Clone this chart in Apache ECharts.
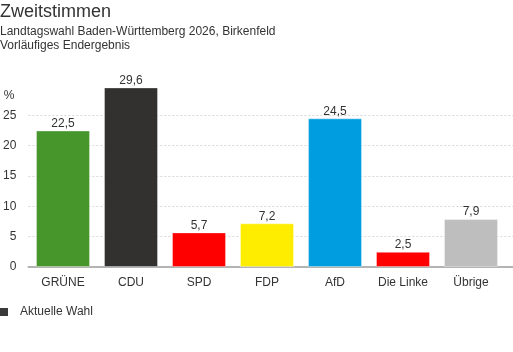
<!DOCTYPE html>
<html><head><meta charset="utf-8">
<script src="https://cdn.jsdelivr.net/npm/echarts@6/dist/echarts.min.js"></script>
<style>html,body{margin:0;padding:0;background:#fff}#c{width:513px;height:352px}</style>
</head><body><div id="c"></div>
<script>
const categories = ['GRÜNE', 'CDU', 'SPD', 'FDP', 'AfD', 'Die Linke', 'Übrige'];
const values = [22.5, 29.6, 5.7, 7.2, 24.5, 2.5, 7.9];
const partyColors = ['#46962b', '#323130', '#ff0000', '#ffed00', '#009ee0', '#ff0000', '#bebebe'];
const yTicks = [0, 5, 10, 15, 20, 25];

const font = '"Liberation Sans", Arial, sans-serif';
const chart = echarts.init(document.getElementById('c'));
chart.setOption({
  animation: false,
  textStyle: { fontFamily: font },
  title: [
    { text: 'Zweitstimmen', left: 0, top: 3, padding: 0,
      textStyle: { fontSize: 18, fontWeight: 'normal', color: '#333', fontFamily: font } },
    { text: 'Landtagswahl Baden-Württemberg 2026, Birkenfeld\nVorläufiges Endergebnis', left: 0, top: 25, padding: 0,
      textStyle: { fontSize: 12, fontWeight: 'normal', color: '#333', lineHeight: 14, fontFamily: font } }
  ],
  legend: {
    left: 0, top: 306, padding: 0,
    icon: 'rect', itemWidth: 8, itemHeight: 8, itemGap: 10,
    data: ['Aktuelle Wahl'],
    textStyle: { fontSize: 12, color: '#333', padding: [0, 0, 0, 7], fontFamily: font }
  },
  grid: [
    { left: 22, right: 0, top: 85, bottom: 85 },
    { left: 29, right: 8, top: 85, bottom: 85 }
  ],
  xAxis: [
    { type: 'category', gridIndex: 0, data: categories,
      axisLine: { show: true, lineStyle: { color: '#b4b4b4', width: 2 } },
      axisTick: { show: false }, axisLabel: { show: false }, splitLine: { show: false } },
    { type: 'category', gridIndex: 1, data: categories,
      axisLine: { show: false }, axisTick: { show: false },
      axisLabel: { color: '#333', fontSize: 12, margin: 10, fontFamily: font } }
  ],
  yAxis: [
    { type: 'value', gridIndex: 0, min: 0, max: 30, interval: 5,
      name: '%', nameLocation: 'end', nameGap: -11,
      nameTextStyle: { color: '#333', fontSize: 12, align: 'right', padding: [0, 14, 0, 0], verticalAlign: 'middle', fontFamily: font },
      axisLine: { show: false }, axisTick: { show: false },
      axisLabel: { color: '#333', fontSize: 12, margin: 12, showMaxLabel: false, fontFamily: font,
        formatter: v => yTicks.includes(v) ? String(v) : '' },
      splitLine: { show: true, showMinLine: false, showMaxLine: false, lineStyle: { color: '#d8d8d8', type: [2, 2], width: 1 } } },
    { type: 'value', gridIndex: 1, min: 0, max: 30, interval: 5,
      axisLine: { show: false }, axisTick: { show: false }, axisLabel: { show: false }, splitLine: { show: false } }
  ],
  series: [{
    name: 'Aktuelle Wahl', type: 'bar', xAxisIndex: 1, yAxisIndex: 1,
    barWidth: 54,
    itemStyle: { color: '#3a3a3a' },
    data: values.map((v, i) => ({ value: v, itemStyle: { color: partyColors[i], borderColor: 'rgba(255,255,255,0.35)', borderWidth: 1 } })),
    label: { show: true, position: 'top', distance: 1, color: '#333', fontSize: 12, fontFamily: font,
      formatter: p => p.value.toFixed(1).replace('.', ',') }
  }]
});
</script></body></html>
